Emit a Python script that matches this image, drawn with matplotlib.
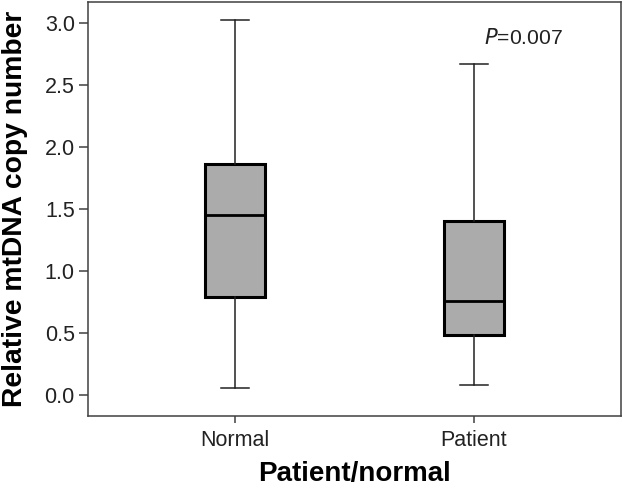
import matplotlib
matplotlib.use("Agg")
import matplotlib.pyplot as plt

plt.rcParams['font.family'] = ['Liberation Sans', 'DejaVu Sans']

groups = ["Normal", "Patient"]
whisker_low = [0.06, 0.08]
q1 = [0.79, 0.485]
median = [1.45, 0.76]
q3 = [1.86, 1.405]
whisker_high = [3.02, 2.67]
y_ticks = [0.0, 0.5, 1.0, 1.5, 2.0, 2.5, 3.0]
p_text = "=0.007"

stats = []
for i, g in enumerate(groups):
    stats.append(dict(label=g, whislo=whisker_low[i], q1=q1[i], med=median[i],
                      q3=q3[i], whishi=whisker_high[i], fliers=[]))

fig = plt.figure(figsize=(6.23, 4.88), dpi=100)
ax = fig.add_axes([0.1413, 0.1475, 0.8555, 0.8478])

ax.bxp(stats, positions=[0, 1], widths=0.25, showfliers=False, patch_artist=True,
       boxprops=dict(facecolor='#ababab', edgecolor='black', linewidth=2.2),
       medianprops=dict(color='black', linewidth=2.0),
       whiskerprops=dict(color='#222222', linewidth=1.1),
       capprops=dict(color='#222222', linewidth=1.1),
       capwidths=0.117)

ax.set_xlim(-0.615, 1.615)
ax.set_ylim(-0.167, 3.164)
ax.set_yticks(y_ticks)
ax.set_yticklabels([f"{v:.1f}" for v in y_ticks])
ax.set_xticks([0, 1])
ax.set_xticklabels(groups)

for s in ax.spines.values():
    s.set_color('#404040')
    s.set_linewidth(1.1)
ax.tick_params(axis='both', labelsize=15.5, color='#404040', width=1.1, colors='#222222')
ax.tick_params(axis='y', length=6.5, pad=3)
ax.tick_params(axis='x', length=5, pad=5)

ax.set_xlabel("Patient/normal", fontsize=20, fontweight='bold', labelpad=7)
ax.set_ylabel("Relative mtDNA copy number", fontsize=20.3, fontweight='bold', labelpad=12)

ax.text(1.205, 2.88, r"$\mathit{P}$" + p_text, fontsize=15.2, ha='center', va='center',
        color='#222222')

fig.savefig("out.png", dpi=100)
